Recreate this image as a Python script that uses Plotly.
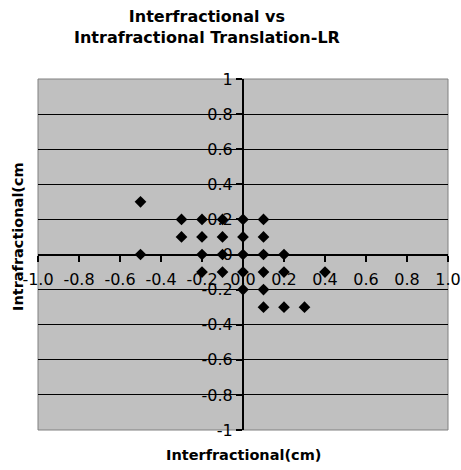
import plotly.graph_objects as go

# Interfractional (x) vs intrafractional (y) LR translation, cm
inter_cm = [-0.5, -0.5,
            -0.3, -0.2, -0.1, 0.0, 0.1,
            -0.3, -0.2, -0.1, 0.0, 0.1,
            -0.2, -0.1, 0.0, 0.1, 0.2,
            -0.2, -0.1, 0.0, 0.1, 0.2, 0.4,
            0.0, 0.1,
            0.1, 0.2, 0.3]
intra_cm = [0.3, 0.0,
            0.2, 0.2, 0.2, 0.2, 0.2,
            0.1, 0.1, 0.1, 0.1, 0.1,
            0.0, 0.0, 0.0, 0.0, 0.0,
            -0.1, -0.1, -0.1, -0.1, -0.1, -0.1,
            -0.2, -0.2,
            -0.3, -0.3, -0.3]

x_ticks = [-1.0, -0.8, -0.6, -0.4, -0.2, 0.0, 0.2, 0.4, 0.6, 0.8, 1.0]
x_tick_text = ["-1.0", "-0.8", "-0.6", "-0.4", "-0.2", "0.0", "0.2", "0.4", "0.6", "0.8", "1.0"]
y_ticks = [-1.0, -0.8, -0.6, -0.4, -0.2, 0.0, 0.2, 0.4, 0.6, 0.8, 1.0]
y_tick_text = ["-1", "-0.8", "-0.6", "-0.4", "-0.2", "0", "0.2", "0.4", "0.6", "0.8", "1"]

FONT = "DejaVu Sans"
W, H = 461, 470
L, R, T, B = 38, 13, 79, 40
PW, PH = W - L - R, H - T - B

fig = go.Figure(go.Scatter(
    x=inter_cm, y=intra_cm, mode="markers",
    marker=dict(symbol="diamond", size=9, color="black"),
    cliponaxis=False,
))

fig.update_layout(
    width=W, height=H,
    margin=dict(l=L, r=R, t=T, b=B, autoexpand=False),
    paper_bgcolor="white",
    plot_bgcolor="#C0C0C0",
    showlegend=False,
    font=dict(family=FONT, size=16, color="black"),
    xaxis=dict(
        range=[-1, 1], domain=[0, 1],
        anchor="free", position=0.5, automargin=False,
        tickvals=x_ticks, ticktext=x_tick_text,
        ticks="outside", ticklen=6, tickwidth=2, tickcolor="black",
        ticklabelstandoff=4,
        showline=True, linecolor="black", linewidth=2,
        showgrid=False, zeroline=False,
        tickfont=dict(family=FONT, size=16, color="black"),
    ),
    yaxis=dict(
        range=[-1, 1], domain=[0, 1],
        anchor="free", position=0.5, automargin=False,
        tickvals=y_ticks, ticktext=y_tick_text,
        ticks="outside", ticklen=6, tickwidth=2, tickcolor="black",
        showline=True, linecolor="black", linewidth=2,
        showgrid=True, gridcolor="black", gridwidth=1,
        zeroline=False,
        tickfont=dict(family=FONT, size=16, color="black"),
    ),
    shapes=[dict(
        type="rect", xref="paper", yref="paper", x0=0, x1=1, y0=0, y1=1,
        line=dict(color="#808080", width=1), layer="below",
    )],
    annotations=[
        dict(text="<b>Interfractional vs<br>Intrafractional Translation-LR</b>",
             xref="paper", yref="paper",
             x=(207 - L) / PW, y=(H - B - 5) / PH, xanchor="center", yanchor="top",
             showarrow=False, font=dict(family=FONT, size=16, color="black")),
        dict(text="<b>Interfractional(cm)</b>", xref="paper", yref="paper",
             x=0.5, y=-25 / PH, xanchor="center", yanchor="middle",
             showarrow=False, font=dict(family=FONT, size=14.5, color="black")),
        dict(text="<b>Intrafractional(cm</b>", xref="paper", yref="paper",
             x=(18 - L) / PW, y=(H - B - 237) / PH, xanchor="center", yanchor="middle",
             textangle=-90, showarrow=False,
             font=dict(family=FONT, size=14.5, color="black")),
    ],
)

fig.write_html("out.html")
